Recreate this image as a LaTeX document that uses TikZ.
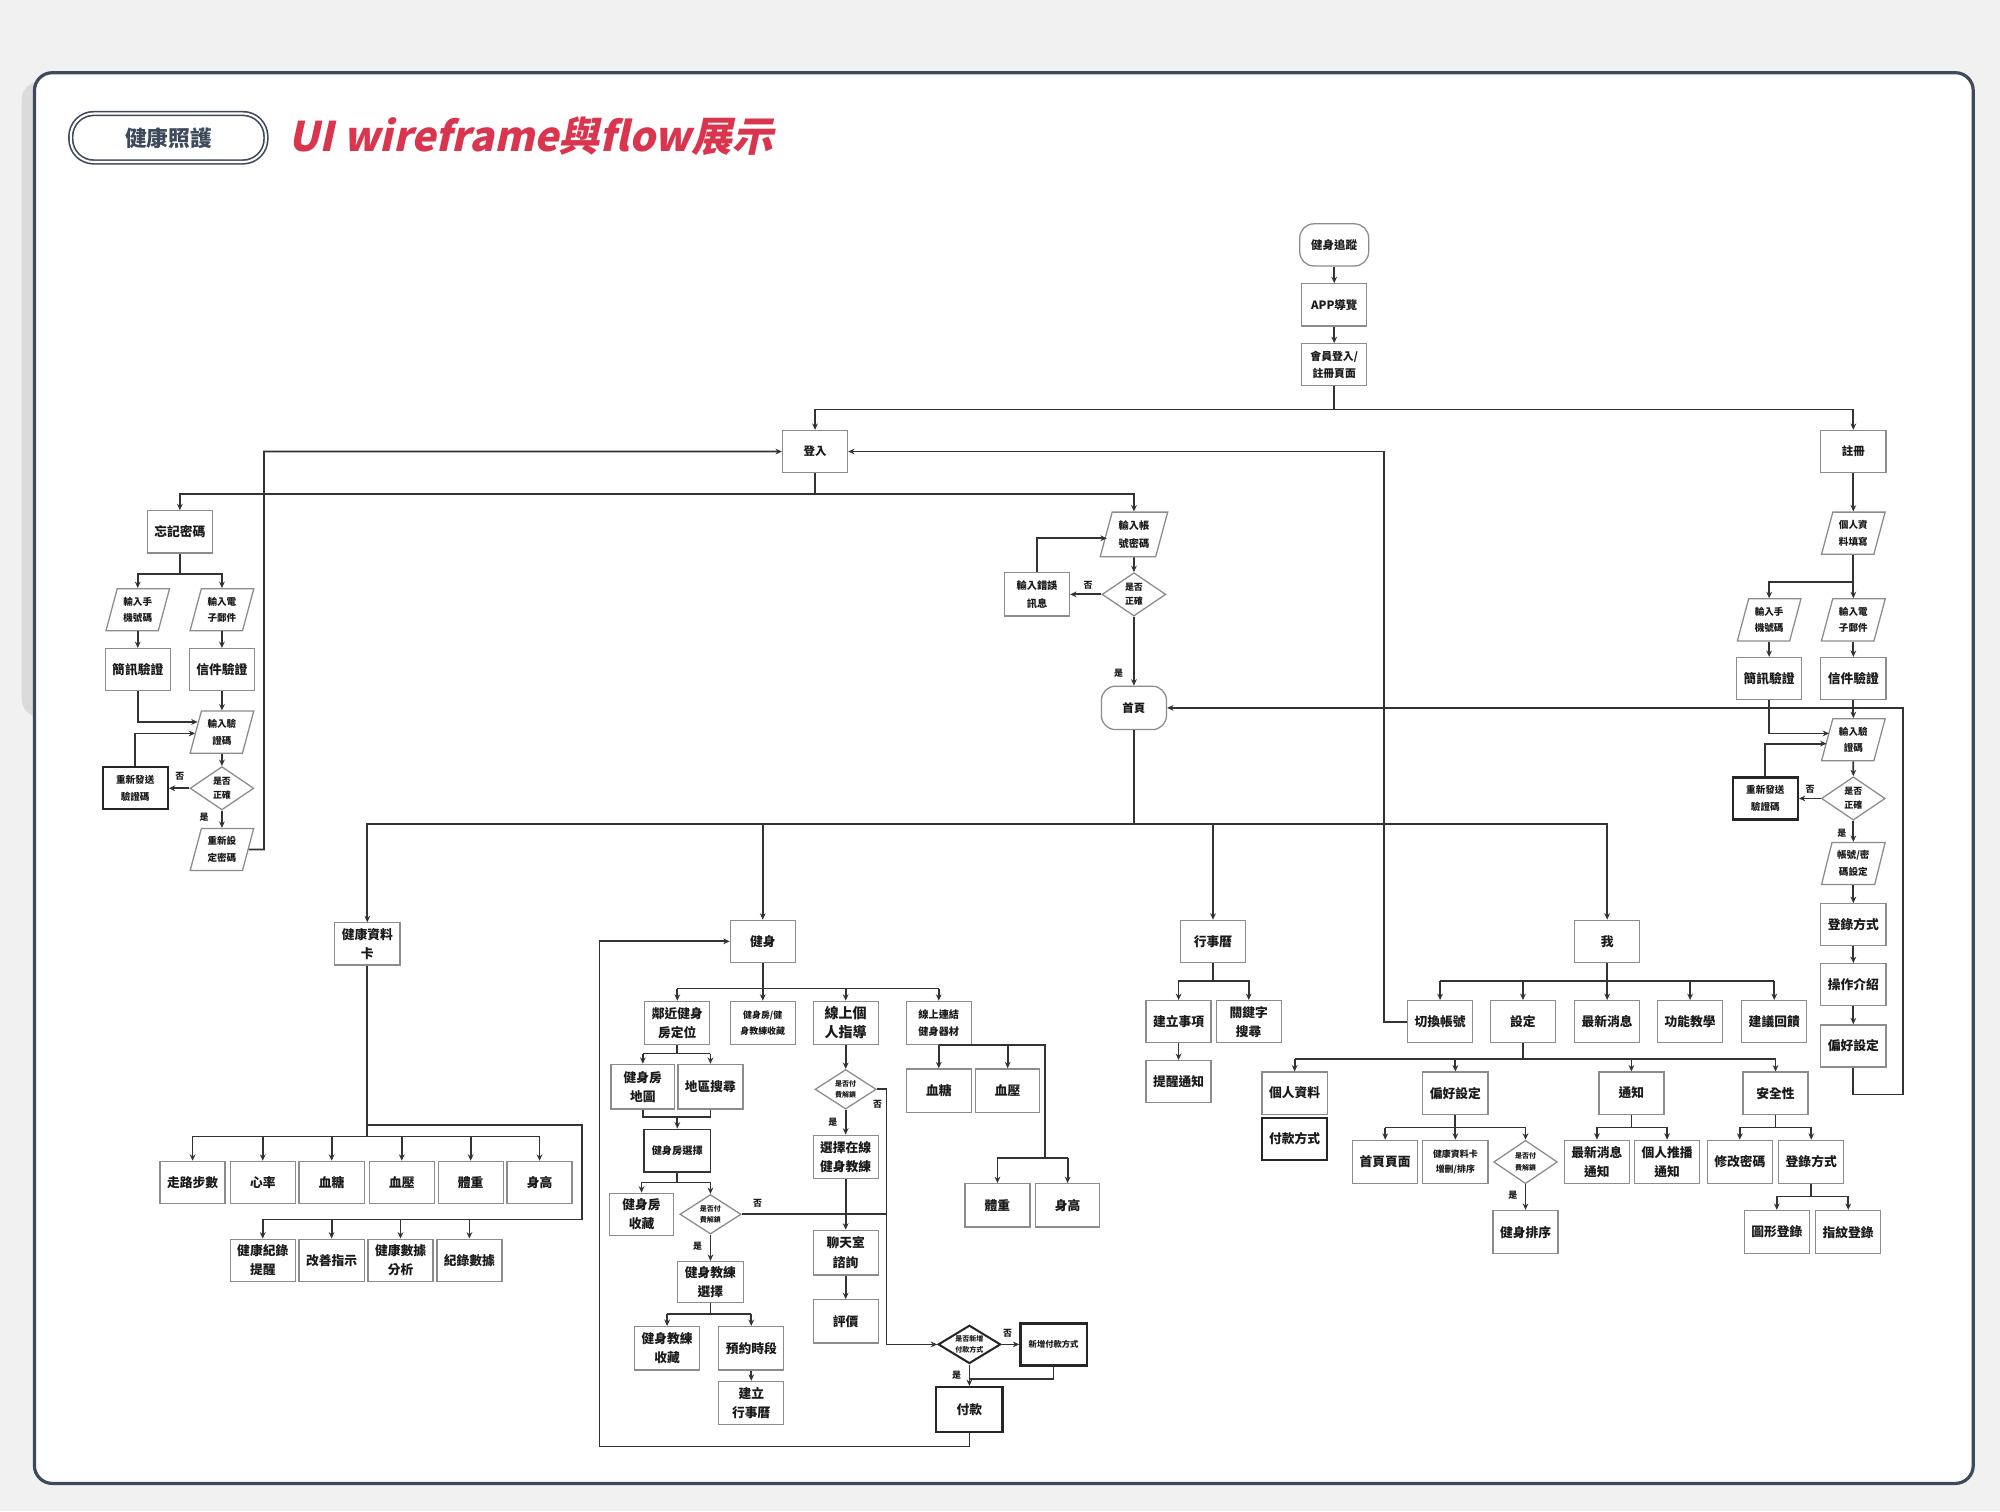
\documentclass[tikz,border=0pt]{standalone}
\usepackage{fontspec}
\usetikzlibrary{shapes.geometric,arrows.meta,calc}
\newfontfamily\cjk{Noto Sans CJK TC}
\newfontfamily\titlefont{Noto Sans CJK TC}[FakeSlant=0.22]
\newcommand\fsz[2]{\fontsize{#1}{#2}\selectfont}
\definecolor{slate}{HTML}{3E4A5C}
\definecolor{crim}{HTML}{D9354F}
\definecolor{boxc}{HTML}{8C8C8C}
\definecolor{lnc}{HTML}{333333}
\definecolor{txt}{HTML}{1A1A1A}
\definecolor{bgc}{HTML}{F1F1F1}
\begin{document}
\begin{tikzpicture}[x=1pt,y=-1pt,
 box/.style={draw=boxc, fill=white, line width=1pt, minimum width=51pt, minimum height=33pt, inner sep=0pt, align=center, text=txt, font=\cjk\bfseries\fsz{10}{15}},
 tbox/.style={box, draw=black!85, line width=1.8pt},
 term/.style={box, rounded corners=11pt},
 para/.style={trapezium, trapezium left angle=73, trapezium right angle=107, trapezium stretches=true, draw=boxc, fill=white, line width=1pt, minimum width=50pt, minimum height=33pt, inner sep=0pt, align=center, text=txt, font=\cjk\bfseries\fsz{7.5}{13}},
 dia/.style={diamond, aspect=1.5, draw=boxc, fill=white, line width=1pt, minimum width=50pt, minimum height=34pt, inner sep=0pt, align=center, text=txt, font=\cjk\bfseries\fsz{7}{11}},
 sdia/.style={dia, minimum width=48pt, minimum height=31pt, font=\cjk\bfseries\fsz{5.5}{9}},
 lab/.style={inner sep=0pt, text=txt, font=\cjk\bfseries\fsz{7}{8}},
 ln/.style={draw=lnc, line width=1.4pt},
 ar/.style={ln, -{Stealth[length=5pt,width=4.5pt]}}
]
\useasboundingbox (0,0) rectangle (1568,1185);
\fill[bgc] (0,0) rectangle (1568,1185);
\fill[black!14, rounded corners=14pt] (17,64) rectangle (100,562);
\draw[slate, line width=2.5pt, fill=white, rounded corners=14pt] (27,57) rectangle (1547,1163);

% header
\node[draw=slate, line width=1.3pt, double=white, double distance=1.6pt, rounded corners=18pt, minimum width=153pt, minimum height=38pt, text=slate, font=\cjk\bfseries\fsz{17}{20}] (badge) at (132,108) {健康照護};
\node[anchor=west, inner sep=0pt, text=crim, font=\titlefont\bfseries\fsz{32}{36}] (title) at (226,107) {UI wireframe與flow展示};

% ===== top =====
\node[term, minimum width=54pt, font=\cjk\bfseries\fsz{9}{12}] (track) at (1046,192) {健身追蹤};
\node[box, font=\cjk\bfseries\fsz{9}{12}] (app) at (1046,239) {APP導覽};
\node[box, font=\cjk\bfseries\fsz{8.5}{13}] (member) at (1046,286) {會員登入/\\註冊頁面};
\node[box, font=\cjk\bfseries\fsz{9}{12}] (login) at (639,354) {登入};
\node[box, font=\cjk\bfseries\fsz{9}{12}] (reg) at (1453,354) {註冊};
\coordinate (jtop) at (1046,321);
\draw[ar] (track) -- (app);
\draw[ar] (app) -- (member);
\draw[ln] (member) -- (jtop);
\draw[ar] (jtop) -| (login);
\draw[ar] (jtop) -| (reg);

% ===== forgot password =====
\node[box] (forgot) at (141,417) {忘記密碼};
\node[para] (fphone) at (108,478) {輸入手\\機號碼};
\node[para] (fmail) at (174,478) {輸入電\\子郵件};
\node[box] (fsms) at (108,525) {簡訊驗證};
\node[box] (fletter) at (174,525) {信件驗證};
\node[para] (fcode) at (174,574) {輸入驗\\證碼};
\node[dia] (fok) at (174,618) {是否\\正確};
\node[tbox, font=\cjk\bfseries\fsz{7.5}{13}] (fresend) at (106,618) {重新發送\\驗證碼};
\node[para] (fnewpw) at (174,666) {重新設\\定密碼};
\node[lab] (lf1) at (141,609) {否};
\node[lab] (lf2) at (160,641) {是};
\coordinate (jlog) at (639,387);
\coordinate (jf) at (141,450);
\draw[ln] (login) -- (jlog);
\draw[ar] (jlog) -| (forgot);
\draw[ln] (forgot) -- (jf);
\draw[ar] (jf) -| (fphone);
\draw[ar] (jf) -| (fmail);
\draw[ar] (fphone) -- (fsms);
\draw[ar] (fmail) -- (fletter);
\draw[ar] (fletter) -- (fcode);
\draw[ar] (fsms) |- ($(fcode.west)+(2,-8)$);
\draw[ar] (fcode) -- (fok);
\draw[ar] (fok) -- (fresend);
\draw[ar] (fresend) |- ($(fcode.west)+(0,1)$);
\draw[ar] (fok) -- (fnewpw);
\draw[ar] (fnewpw.east) -- (207,666) |- (login.west);

% ===== login =====
\node[para, minimum width=53pt, minimum height=35pt, font=\cjk\bfseries\fsz{8}{14}] (inacc) at (889,419) {輸入帳\\號密碼};
\node[dia] (lok) at (889,466) {是否\\正確};
\node[box, minimum height=34pt, font=\cjk\bfseries\fsz{8}{14}] (inerr) at (813,466) {輸入錯誤\\訊息};
\node[term, minimum height=34pt, font=\cjk\bfseries\fsz{9}{12}] (home) at (889,555) {首頁};
\node[lab] (ll1) at (853,459) {否};
\node[lab] (ll2) at (877,528) {是};
\draw[ar] (jlog) -| (inacc);
\draw[ar] (inacc) -- (lok);
\draw[ar] (lok) -- (inerr);
\draw[ar] (inerr) |- ($(inacc.west)+(1,3)$);
\draw[ar] (lok) -- (home);

% ===== register =====
\node[para] (rinfo) at (1453,418) {個人資\\料填寫};
\node[para] (rphone) at (1387,486) {輸入手\\機號碼};
\node[para] (rmail) at (1453,486) {輸入電\\子郵件};
\node[box] (rsms) at (1387,532) {簡訊驗證};
\node[box] (rletter) at (1453,532) {信件驗證};
\node[para] (rcode) at (1453,580) {輸入驗\\證碼};
\node[dia] (rok) at (1453,626) {是否\\正確};
\node[tbox, font=\cjk\bfseries\fsz{7.5}{13}] (rresend) at (1384,626) {重新發送\\驗證碼};
\node[para] (racct) at (1453,677) {帳號/密\\碼設定};
\node[box] (rlogin) at (1453,725) {登錄方式};
\node[box] (rintro) at (1453,772) {操作介紹};
\node[box] (rpref) at (1453,820) {偏好設定};
\node[lab] (lr1) at (1419,619) {否};
\node[lab] (lr2) at (1444,653) {是};
\coordinate (jr) at (1453,456);
\draw[ar] (reg) -- (rinfo);
\draw[ln] (rinfo) -- (jr);
\draw[ar] (jr) -| (rphone);
\draw[ar] (jr) -- (rmail);
\draw[ar] (rphone) -- (rsms);
\draw[ar] (rmail) -- (rletter);
\draw[ar] (rletter) -- (rcode);
\draw[ar] (rsms) |- ($(rcode.west)+(2,-5)$);
\draw[ar] (rcode) -- (rok);
\draw[ar] (rok) -- (rresend);
\draw[ar] (rresend) |- ($(rcode.west)+(0,3)$);
\draw[ar] (rok) -- (racct);
\draw[ar] (racct) -- (rlogin);
\draw[ar] (rlogin) -- (rintro);
\draw[ar] (rintro) -- (rpref);
\draw[ar] (rpref) -- (1453,858) -- (1492,858) |- (home.east);

% ===== home split =====
\node[box] (hcard) at (288,740) {健康資料\\卡};
\node[box] (fit) at (598,738) {健身};
\node[box] (cal) at (951,738) {行事曆};
\node[box] (me) at (1260,738) {我};
\coordinate (jh) at (889,646);
\draw[ln] (home) -- (jh);
\draw[ar] (jh) -| (hcard);
\draw[ar] (jh) -| (fit);
\draw[ar] (jh) -| (cal);
\draw[ar] (jh) -| (me);

% ===== health card =====
\node[box] (walk) at (151,927) {走路步數};
\node[box] (heart) at (206,927) {心率};
\node[box] (sugar) at (260,927) {血糖};
\node[box] (press) at (315,927) {血壓};
\node[box] (weight) at (369,927) {體重};
\node[box] (height) at (423,927) {身高};
\node[box] (rem) at (206,988) {健康紀錄\\提醒};
\node[box] (impr) at (260,988) {改善指示};
\node[box] (anal) at (314,988) {健康數據\\分析};
\node[box] (recd) at (368,988) {紀錄數據};
\coordinate (jc1) at (288,891);
\coordinate (jc2) at (288,882);
\coordinate (jc3) at (456,956);
\draw[ln] (hcard) -- (jc1);
\draw[ln] (walk |- jc1) -- (height |- jc1);
\foreach \n in {walk,heart,sugar,press,weight,height} \draw[ar] (\n |- jc1) -- (\n);
\draw[ln] (jc2) -| (jc3) -- (rem |- jc3);
\foreach \n in {rem,impr,anal,recd} \draw[ar] (\n |- jc3) -- (\n);

% ===== fitness =====
\node[box, minimum height=34pt] (near) at (531,802) {鄰近健身\\房定位};
\node[box, minimum height=34pt, font=\cjk\bfseries\fsz{7}{12}] (gfav) at (598,802) {健身房/健\\身教練收藏};
\node[box, minimum height=34pt, font=\cjk\bfseries\fsz{11}{15}] (coach) at (663,802) {線上個\\人指導};
\node[box, minimum height=34pt, font=\cjk\bfseries\fsz{8}{13}] (linked) at (736,802) {線上連結\\健身器材};
\node[box, minimum width=50pt, minimum height=35pt] (gmap) at (504,852) {健身房\\地圖};
\node[box, minimum height=35pt] (gsearch) at (557,852) {地區搜尋};
\node[box, draw=black!80, line width=1.5pt, minimum width=52pt, font=\cjk\bfseries\fsz{8}{12}] (gsel) at (531,902) {健身房選擇};
\node[box, minimum width=50pt] (gcol) at (503,952) {健身房\\收藏};
\node[sdia] (gdia) at (557,952) {是否付\\費解鎖};
\node[box, minimum width=52pt, minimum height=32pt] (csel) at (557,1005) {健身教練\\選擇};
\node[box, minimum height=34pt] (ccol) at (523,1057) {健身教練\\收藏};
\node[box, minimum height=34pt] (book) at (589,1057) {預約時段};
\node[box, minimum height=34pt] (mkcal) at (589,1100) {建立\\行事曆};
\node[sdia] (cdia) at (663,854) {是否付\\費解鎖};
\node[box, minimum height=34pt] (cselon) at (663,907) {選擇在線\\健身教練};
\node[box, minimum height=35pt] (chat) at (663,982) {聊天室\\諮詢};
\node[box, minimum height=34pt] (rate) at (663,1036) {評價};
\node[sdia, minimum width=49pt, minimum height=30pt, draw=black!85, line width=1.6pt, font=\cjk\bfseries\fsz{5.5}{8}] (paydia) at (760,1054) {是否新增\\付款方式};
\node[tbox, minimum width=52pt, font=\cjk\bfseries\fsz{6.5}{9}] (newpay) at (826,1054) {新增付款方式};
\node[tbox, minimum width=52pt, minimum height=35pt] (pay) at (760,1105) {付款};
\node[box, minimum height=34pt] (bs2) at (736,855) {血糖};
\node[box, minimum width=50pt, minimum height=34pt] (bp2) at (790,855) {血壓};
\node[box, minimum height=34pt] (wt2) at (782,945) {體重};
\node[box, minimum width=50pt, minimum height=34pt] (ht2) at (837,945) {身高};
\node[lab] (lg1) at (594,943) {否};
\node[lab] (lg2) at (547,977) {是};
\node[lab] (lc1) at (688,866) {否};
\node[lab] (lc2) at (653,880) {是};
\node[lab] (lp1) at (790,1045) {否};
\node[lab] (lp2) at (750,1078) {是};
\coordinate (jfit) at (598,775);
\coordinate (jn) at (531,826);
\coordinate (jm) at (531,876);
\coordinate (js) at (531,927);
\coordinate (jcs) at (557,1030);
\coordinate (jp) at (695,854);
\coordinate (jnp) at (760,1081);
\coordinate (jw) at (819,908);
\draw[ln] (fit) -- (jfit);
\draw[ln] (near |- jfit) -- (linked |- jfit);
\foreach \n in {near,gfav,coach,linked} \draw[ar] (\n |- jfit) -- (\n);
\draw[ln] (near) -- (jn);
\draw[ln] (gmap |- jn) -- (gsearch |- jn);
\draw[ar] (gmap |- jn) -- (gmap);
\draw[ar] (gsearch |- jn) -- (gsearch);
\draw[ln] (gmap) |- (jm) -| (gsearch);
\draw[ar] (jm) -- (gsel);
\draw[ln] (gsel) -- (js);
\draw[ln] (gcol |- js) -- (gdia |- js);
\draw[ar] (gcol |- js) -- (gcol);
\draw[ar] (gdia |- js) -- (gdia);
\draw[ar] (gdia) -- (csel);
\draw[ln] (gdia.east) -- (jp |- gdia.east);
\draw[ln] (csel) -- (jcs);
\draw[ln] (ccol |- jcs) -- (book |- jcs);
\draw[ar] (ccol |- jcs) -- (ccol);
\draw[ar] (book |- jcs) -- (book);
\draw[ar] (book) -- (mkcal);
\draw[ar] (coach) -- (cdia);
\draw[ar] (cdia) -- (cselon);
\draw[ar] (cselon) -- (chat);
\draw[ar] (chat) -- (rate);
\draw[ar] (cdia.east) -- (jp) |- (paydia.west);
\draw[ar] (paydia) -- (newpay);
\draw[ar] (paydia) -- (pay);
\draw[ln] (newpay) |- (jnp);
\draw[ar] (pay) |- (470,1134) |- (fit.west);
\draw[ln] (linked.south) -- (jw |- linked.south) -- (jw);
\draw[ar] (linked) -- (bs2);
\draw[ar] (bp2 |- linked.south) -- (bp2);
\draw[ln] (wt2 |- jw) -- (ht2 |- jw);
\draw[ar] (wt2 |- jw) -- (wt2);
\draw[ar] (ht2 |- jw) -- (ht2);

% ===== calendar =====
\node[box] (citem) at (924,801) {建立事項};
\node[box] (ckey) at (979,801) {關鍵字\\搜尋};
\node[box] (cnote) at (924,848) {提醒通知};
\coordinate (jcal) at (951,769);
\draw[ln] (cal) -- (jcal);
\draw[ar] (jcal) -| (citem);
\draw[ar] (jcal) -| (ckey);
\draw[ar] (citem) -- (cnote);

% ===== me =====
\node[box] (switch) at (1129,801) {切換帳號};
\node[box] (set) at (1194,801) {設定};
\node[box] (news) at (1260,801) {最新消息};
\node[box] (teach) at (1325,801) {功能教學};
\node[box] (fb) at (1391,801) {建議回饋};
\node[box] (pdata) at (1015,857) {個人資料};
\node[tbox] (paym) at (1015,893) {付款方式};
\node[box] (pref) at (1141,857) {偏好設定};
\node[box] (notif) at (1279,857) {通知};
\node[box] (sec) at (1392,857) {安全性};
\node[box, minimum height=34pt] (hpage) at (1086,911) {首頁頁面};
\node[box, minimum height=34pt, font=\cjk\bfseries\fsz{7}{12}] (hsort) at (1141,911) {健康資料卡\\增刪/排序};
\node[sdia, minimum width=50pt, minimum height=34pt] (pdia) at (1196,911) {是否付\\費解鎖};
\node[box, minimum height=34pt] (fsort) at (1196,966) {健身排序};
\node[box, minimum height=34pt] (nnews) at (1252,911) {最新消息\\通知};
\node[box, minimum height=34pt] (npush) at (1307,911) {個人推播\\通知};
\node[box, minimum height=34pt] (chpw) at (1364,911) {修改密碼};
\node[box, minimum height=34pt] (logway) at (1420,911) {登錄方式};
\node[box, minimum height=34pt] (glog) at (1393,966) {圖形登錄};
\node[box, minimum height=34pt] (flog) at (1449,966) {指紋登錄};
\node[lab] (lm1) at (1186,937) {是};
\coordinate (jme) at (1260,769);
\coordinate (jset) at (1194,830);
\coordinate (jpf) at (1141,884);
\coordinate (jnt) at (1279,884);
\coordinate (jsc) at (1392,884);
\coordinate (jlw) at (1420,938);
\draw[ln] (me) -- (jme);
\draw[ln] (switch |- jme) -- (fb |- jme);
\foreach \n in {switch,set,news,teach,fb} \draw[ar] (\n |- jme) -- (\n);
\draw[ar] (switch.west) -- (1085,801) |- (login.east);
\draw[ln] (set) -- (jset);
\draw[ln] (pdata |- jset) -- (sec |- jset);
\foreach \n in {pdata,pref,notif,sec} \draw[ar] (\n |- jset) -- (\n);
\draw[ln] (pref) -- (jpf);
\draw[ln] (hpage |- jpf) -- (pdia |- jpf);
\foreach \n in {hpage,hsort,pdia} \draw[ar] (\n |- jpf) -- (\n);
\draw[ar] (pdia) -- (fsort);
\draw[ln] (notif) -- (jnt);
\draw[ar] (jnt) -| (nnews);
\draw[ar] (jnt) -| (npush);
\draw[ln] (sec) -- (jsc);
\draw[ar] (jsc) -| (chpw);
\draw[ar] (jsc) -| (logway);
\draw[ln] (logway) -- (jlw);
\draw[ar] (jlw) -| (glog);
\draw[ar] (jlw) -| (flog);
\end{tikzpicture}
\end{document}
